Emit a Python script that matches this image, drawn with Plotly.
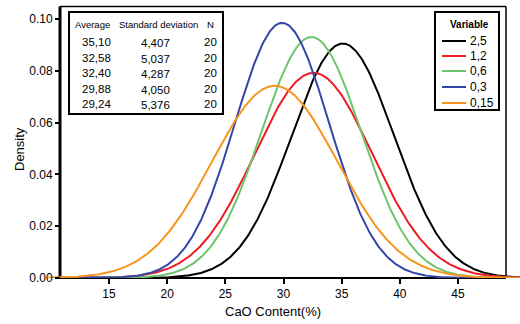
import numpy as np
import plotly.graph_objects as go

# ---- data ----
variables = ["2,5", "1,2", "0,6", "0,3", "0,15"]
averages = [35.10, 32.58, 32.40, 29.88, 29.24]
std_devs = [4.407, 5.037, 4.287, 4.050, 5.376]
n_values = [20, 20, 20, 20, 20]
avg_labels = ["35,10", "32,58", "32,40", "29,88", "29,24"]
sd_labels = ["4,407", "5,037", "4,287", "4,050", "5,376"]
colors = ["#000000", "#ee1c24", "#6cc46c", "#3546a6", "#f7941d"]
x_ticks = [15, 20, 25, 30, 35, 40, 45]
y_ticks = [0.00, 0.02, 0.04, 0.06, 0.08, 0.10]

W, H = 520, 324
ML, MR, MT, MB = 48, 0, 7, 46
PW = W - ML - MR
PH = H - MT - MB

# axis geometry (pixel mapping)
px_per_unit = (458 - 109) / 30.0
x_lo = 15 - (109 - ML) / px_per_unit
x_hi = 45 + (W - 458) / px_per_unit
y_hi = 0.1 * (278 - MT) / (278 - 19)

def px_to_paper_x(px):
    return (px - ML) / PW

def py_to_paper_y(py):
    return (H - MB - py) / PH

xs = np.linspace(x_lo, x_hi, 600)

fig = go.Figure()
for name, mu, sd, c in zip(variables, averages, std_devs, colors):
    dens = np.exp(-0.5 * ((xs - mu) / sd) ** 2) / (sd * np.sqrt(2 * np.pi))
    fig.add_trace(go.Scatter(x=xs, y=dens, mode="lines", name=name,
                             line=dict(color=c, width=2), showlegend=False))

font = "Liberation Sans, Arial, sans-serif"
shapes = []
annotations = []

def pline(x0, y0, x1, y1, w, color="black", layer="below"):
    shapes.append(dict(type="line", xref="paper", yref="paper",
                       x0=px_to_paper_x(x0), x1=px_to_paper_x(x1),
                       y0=py_to_paper_y(y0), y1=py_to_paper_y(y1),
                       line=dict(color=color, width=w), layer=layer))

# plot frame (drawn below the curves)
pline(60, 6.5, 506, 6.5, 1.5)          # top
pline(506, 6.5, 506, 278, 1.5)         # right
pline(59, 278, 506, 278, 2)            # bottom axis
pline(60, 6.5, 60, 279, 3)             # left axis

# table box
shapes.append(dict(type="rect", xref="paper", yref="paper",
                   x0=px_to_paper_x(69), x1=px_to_paper_x(223),
                   y0=py_to_paper_y(114), y1=py_to_paper_y(12),
                   fillcolor="white", line=dict(color="black", width=2), layer="above"))
# legend box
shapes.append(dict(type="rect", xref="paper", yref="paper",
                   x0=px_to_paper_x(435), x1=px_to_paper_x(499),
                   y0=py_to_paper_y(110), y1=py_to_paper_y(12),
                   fillcolor="white", line=dict(color="black", width=2), layer="above"))

def ann(text, px, py, size, xanchor="center", bold=False):
    annotations.append(dict(text=("<b>%s</b>" % text) if bold else text,
                            xref="paper", yref="paper",
                            x=px_to_paper_x(px), y=py_to_paper_y(py),
                            xanchor=xanchor, yanchor="middle", showarrow=False,
                            font=dict(family=font, size=size, color="black")))

# table header
ann("Average", 92, 25, 9.5)
ann("Standard deviation", 158, 25, 9.5)
ann("N", 210, 25, 9.5)
row_y = [42, 58, 73, 89, 104]
for yy, a, s, n in zip(row_y, avg_labels, sd_labels, n_values):
    ann(a, 96, yy, 11.5)
    ann(s, 155, yy + 1, 11.5)
    ann(str(n), 210, yy, 11.5)

# legend
ann("Variable", 469, 25, 10, bold=True)
leg_y = [41, 56, 71, 87, 103]
for yy, name, c in zip(leg_y, variables, colors):
    pline(442, yy, 466, yy, 2, color=c, layer="above")
    ann(name, 468, yy, 12, xanchor="left")

# axis titles
annotations.append(dict(text="CaO Content(%)", xref="paper", yref="paper",
                        x=px_to_paper_x(273), y=py_to_paper_y(311),
                        xanchor="center", yanchor="middle", showarrow=False,
                        font=dict(family=font, size=13, color="black")))
annotations.append(dict(text="Density", xref="paper", yref="paper",
                        x=px_to_paper_x(19), y=py_to_paper_y(149), textangle=-90,
                        xanchor="center", yanchor="middle", showarrow=False,
                        font=dict(family=font, size=13, color="black")))

fig.update_layout(
    width=W, height=H,
    margin=dict(l=ML, r=MR, t=MT, b=MB, pad=0),
    paper_bgcolor="white", plot_bgcolor="white",
    showlegend=False,
    shapes=shapes, annotations=annotations,
    xaxis=dict(range=[x_lo, x_hi], tickvals=x_ticks, ticks="outside", ticklen=5,
               tickwidth=1.5, tickcolor="black", showgrid=False, zeroline=False,
               showline=False, tickfont=dict(family=font, size=12, color="black")),
    yaxis=dict(range=[0, y_hi], tickvals=y_ticks, tickformat=".2f", ticks="outside",
               ticklen=5, tickwidth=1.5, tickcolor="black", showgrid=False,
               zeroline=False, showline=False, anchor="free",
               position=px_to_paper_x(60),
               tickfont=dict(family=font, size=12, color="black")),
)

fig.write_html("out.html")
